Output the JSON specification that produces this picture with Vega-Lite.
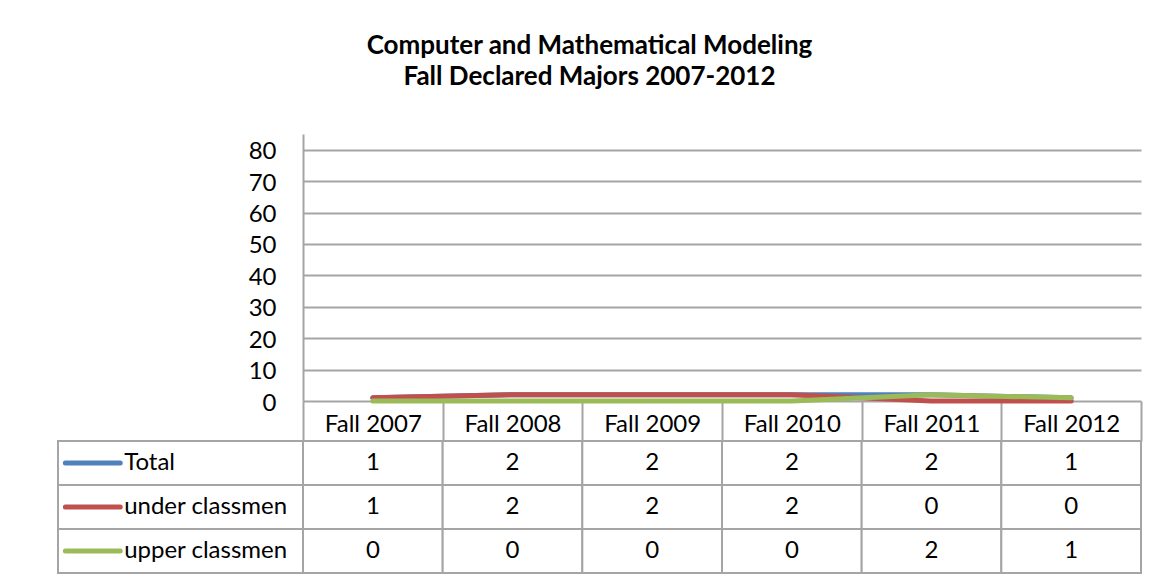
{
  "$schema": "https://vega.github.io/schema/vega-lite/v6.json",
  "padding": {"left": 57, "top": 33, "right": 35, "bottom": 11},
  "background": "white",
  "title": {
    "text": ["Computer and Mathematical Modeling", "Fall Declared Majors 2007-2012"],
    "font": "Lato", "fontSize": 26, "fontWeight": "bold", "lineHeight": 31,
    "color": "black", "anchor": "middle", "dx": -10, "offset": 44
  },
  "datasets": {
    "majors": [
      {"period": "Fall 2007", "series": "Total", "count": 1},
      {"period": "Fall 2008", "series": "Total", "count": 2},
      {"period": "Fall 2009", "series": "Total", "count": 2},
      {"period": "Fall 2010", "series": "Total", "count": 2},
      {"period": "Fall 2011", "series": "Total", "count": 2},
      {"period": "Fall 2012", "series": "Total", "count": 1},
      {"period": "Fall 2007", "series": "under classmen", "count": 1},
      {"period": "Fall 2008", "series": "under classmen", "count": 2},
      {"period": "Fall 2009", "series": "under classmen", "count": 2},
      {"period": "Fall 2010", "series": "under classmen", "count": 2},
      {"period": "Fall 2011", "series": "under classmen", "count": 0},
      {"period": "Fall 2012", "series": "under classmen", "count": 0},
      {"period": "Fall 2007", "series": "upper classmen", "count": 0},
      {"period": "Fall 2008", "series": "upper classmen", "count": 0},
      {"period": "Fall 2009", "series": "upper classmen", "count": 0},
      {"period": "Fall 2010", "series": "upper classmen", "count": 0},
      {"period": "Fall 2011", "series": "upper classmen", "count": 2},
      {"period": "Fall 2012", "series": "upper classmen", "count": 1}
    ],
    "seriesList": [
      {"series": "Total"},
      {"series": "under classmen"},
      {"series": "upper classmen"}
    ]
  },
  "columns": 2,
  "spacing": {"row": 40, "column": 0},
  "bounds": "flush",
  "concat": [
    {
      "width": 245, "height": 267,
      "data": {"values": [{}]},
      "mark": {"type": "rect", "opacity": 0},
      "encoding": {}
    },
    {
      "width": 838, "height": 267,
      "data": {"name": "majors"},
      "mark": {"type": "line", "strokeWidth": 5, "strokeCap": "round", "strokeJoin": "round"},
      "encoding": {
        "x": {
          "field": "period", "type": "nominal", "sort": null,
          "scale": {"type": "band", "paddingInner": 0, "paddingOuter": 0},
          "axis": {
            "title": null, "orient": "bottom", "tickBand": "extent", "tickSize": 40,
            "tickWidth": 2, "tickColor": "#A5A5A5", "domain": false, "grid": false,
            "labelAngle": 0, "labelFontSize": 24, "labelFont": "Lato", "labelColor": "black",
            "labelBaseline": "middle", "labelPadding": -17
          }
        },
        "y": {
          "field": "count", "type": "quantitative",
          "scale": {"domain": [0, 85], "nice": false, "zero": true},
          "axis": {
            "title": null, "values": [0, 10, 20, 30, 40, 50, 60, 70, 80],
            "grid": true, "gridColor": "#A5A5A5", "gridWidth": 2,
            "ticks": false, "domain": true, "domainColor": "#A5A5A5", "domainWidth": 2,
            "labelFontSize": 24, "labelFont": "Lato", "labelColor": "black", "labelPadding": 27,
            "labelBaseline": "middle", "labelOffset": 2
          }
        },
        "color": {
          "field": "series", "type": "nominal",
          "scale": {"domain": ["Total", "under classmen", "upper classmen"], "range": ["#4F81BD", "#C0504D", "#9BBB59"]},
          "legend": null
        }
      }
    },
    {
      "width": 245, "height": 132,
      "data": {"name": "seriesList"},
      "encoding": {
        "y": {
          "field": "series", "type": "nominal", "sort": null,
          "scale": {"domain": ["Total", "under classmen", "upper classmen"], "paddingInner": 0, "paddingOuter": 0},
          "axis": null
        }
      },
      "layer": [
        {"mark": {"type": "rect", "fill": "white", "stroke": "#A5A5A5", "strokeWidth": 2}},
        {
          "mark": {"type": "rule", "strokeWidth": 5, "strokeCap": "round"},
          "encoding": {
            "x": {"datum": 0.03, "type": "quantitative", "scale": {"domain": [0, 1]}, "axis": null},
            "x2": {"datum": 0.254},
            "color": {
              "field": "series", "type": "nominal",
              "scale": {"domain": ["Total", "under classmen", "upper classmen"], "range": ["#4F81BD", "#C0504D", "#9BBB59"]},
              "legend": null
            }
          }
        },
        {
          "mark": {"type": "text", "align": "left", "baseline": "middle", "fontSize": 24, "font": "Lato", "color": "black"},
          "encoding": {
            "x": {"datum": 0.27, "type": "quantitative", "scale": {"domain": [0, 1]}, "axis": null},
            "text": {"field": "series", "type": "nominal"}
          }
        }
      ]
    },
    {
      "width": 838, "height": 132,
      "data": {"name": "majors"},
      "encoding": {
        "x": {
          "field": "period", "type": "nominal", "sort": null,
          "scale": {"paddingInner": 0, "paddingOuter": 0}, "axis": null
        },
        "y": {
          "field": "series", "type": "nominal", "sort": null,
          "scale": {"domain": ["Total", "under classmen", "upper classmen"], "paddingInner": 0, "paddingOuter": 0},
          "axis": null
        }
      },
      "layer": [
        {"mark": {"type": "rect", "fill": "white", "stroke": "#A5A5A5", "strokeWidth": 2}},
        {
          "mark": {"type": "text", "baseline": "middle", "fontSize": 24, "font": "Lato", "color": "black"},
          "encoding": {"text": {"field": "count", "type": "quantitative"}}
        }
      ]
    }
  ],
  "config": {
    "view": {"stroke": null},
    "font": "Lato"
  }
}
